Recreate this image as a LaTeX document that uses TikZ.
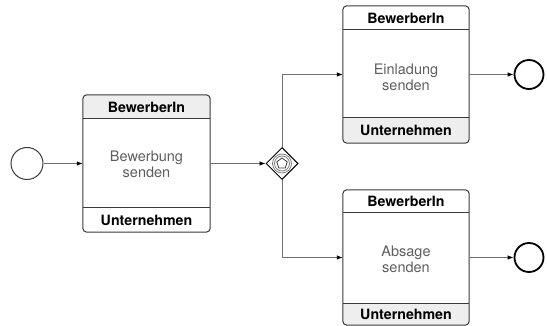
\documentclass[tikz,border=0pt]{standalone}
\usepackage{fontspec}
\setmainfont{TeX Gyre Heros}
\usetikzlibrary{arrows.meta,shapes.geometric,calc}
\definecolor{linegray}{HTML}{707070}
\definecolor{boxgray}{HTML}{3A3A3A}
\definecolor{hdrgray}{HTML}{EEEEEE}
\definecolor{txtgray}{HTML}{5E5E5E}
\tikzset{
  task/.style={draw=boxgray,line width=1pt,rounded corners=4pt,minimum width=127pt,inner sep=0pt},
  lbl/.style={font=\fontsize{14.2}{16}\selectfont\bfseries,text=black,inner sep=0pt},
  body/.style={font=\fontsize{14.5}{16}\selectfont,text=txtgray,align=center,inner sep=0pt},
  sep/.style={draw=boxgray,line width=0.8pt},
  flow/.style={draw=linegray,line width=0.8pt,-{Latex[length=6pt,width=4.5pt,color=black]}},
  startev/.style={circle,draw=boxgray,line width=1pt,minimum size=32pt,inner sep=0pt},
  endev/.style={circle,draw=black,line width=1.8pt,minimum size=29pt,inner sep=0pt},
}
\begin{document}
\begin{tikzpicture}[x=1pt,y=-1pt]
\useasboundingbox (0,0) rectangle (547,326);

% tasks (geometry)
\path (146.5,163.5) node[minimum height=137pt,minimum width=127pt,inner sep=0pt] (t1) {};
\path (406,74.5) node[minimum height=137pt,minimum width=126pt,inner sep=0pt] (t2) {};
\path (406,257.5) node[minimum height=135pt,minimum width=126pt,inner sep=0pt] (t3) {};

% task 1: shaded header
\begin{scope}
\clip[rounded corners=4pt] (t1.south west) rectangle (t1.north east);
\fill[hdrgray] (t1.north west) rectangle ($(t1.north east)+(0,24)$);
\end{scope}
\draw[task] (t1.south west) rectangle (t1.north east);
\draw[sep] ($(t1.north west)+(0,24)$) -- ($(t1.north east)+(0,24)$);
\draw[sep] ($(t1.south west)+(0,-25)$) -- ($(t1.south east)+(0,-25)$);
\node[lbl] (t1h) at ($(t1.north)+(0,12.5)$) {BewerberIn};
\node[lbl] (t1f) at ($(t1.south)+(0,-12)$) {Unternehmen};
\node[body] (t1b) at ($(t1.center)+(0,1)$) {Bewerbung\\senden};

% task 2: shaded footer
\begin{scope}
\clip[rounded corners=4pt] (t2.south west) rectangle (t2.north east);
\fill[hdrgray] (t2.south west) rectangle ($(t2.south east)+(0,-26)$);
\end{scope}
\draw[task] (t2.south west) rectangle (t2.north east);
\draw[sep] ($(t2.north west)+(0,24)$) -- ($(t2.north east)+(0,24)$);
\draw[sep] ($(t2.south west)+(0,-26)$) -- ($(t2.south east)+(0,-26)$);
\node[lbl] (t2h) at ($(t2.north)+(0,12.5)$) {BewerberIn};
\node[lbl] (t2f) at ($(t2.south)+(0,-12.5)$) {Unternehmen};
\node[body] (t2b) at ($(t2.center)+(0,3)$) {Einladung\\senden};

% task 3: shaded footer
\begin{scope}
\clip[rounded corners=4pt] (t3.south west) rectangle (t3.north east);
\fill[hdrgray] (t3.south west) rectangle ($(t3.south east)+(0,-22)$);
\end{scope}
\draw[task] (t3.south west) rectangle (t3.north east);
\draw[sep] ($(t3.north west)+(0,23)$) -- ($(t3.north east)+(0,23)$);
\draw[sep] ($(t3.south west)+(0,-22)$) -- ($(t3.south east)+(0,-22)$);
\node[lbl] (t3h) at ($(t3.north)+(0,12)$) {BewerberIn};
\node[lbl] (t3f) at ($(t3.south)+(0,-11)$) {Unternehmen};
\node[body] (t3b) at ($(t3.center)+(0,2)$) {Absage\\senden};

% events
\node[startev] (s) at (27,163.5) {};
\node[endev] (e1) at (529,74.5) {};
\node[endev] (e2) at (529,257.5) {};

% gateway
\node[diamond,draw=black,line width=1pt,minimum width=32pt,minimum height=32pt,inner sep=0pt,aspect=1] (gw) at (282,163.5) {};
\draw[linegray,line width=0.7pt] (gw.center) circle (9.5pt);
\draw[linegray,line width=0.7pt] (gw.center) circle (7.5pt);
\node[regular polygon,regular polygon sides=5,draw=boxgray,line width=0.8pt,minimum size=11pt,inner sep=0pt] (pent) at (gw.center) {};

% flows
\draw[flow] (s) -- (t1);
\draw[flow] (t1) -- (gw);
\draw[flow] (gw.north) |- (t2.west);
\draw[flow] (gw.south) |- (t3.west);
\draw[flow] (t2) -- (e1);
\draw[flow] (t3) -- (e2);
\end{tikzpicture}
\end{document}
